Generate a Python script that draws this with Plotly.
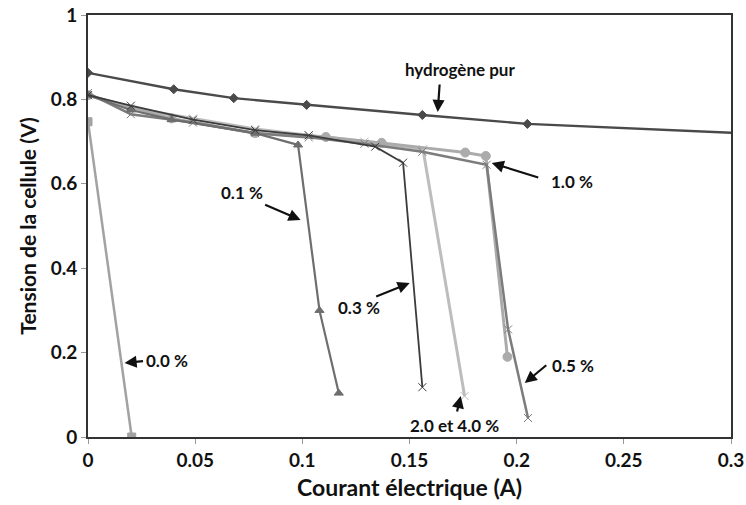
import plotly.graph_objects as go

# Data (A, V)
h2_x = [0, 0.04, 0.068, 0.102, 0.156, 0.205, 0.35]
h2_y = [0.863, 0.824, 0.803, 0.787, 0.763, 0.742, 0.71]

p00_x = [0, 0.0204]
p00_y = [0.747, 0.0]

p01_x = [0, 0.02, 0.039, 0.078, 0.098, 0.108, 0.117]
p01_y = [0.81, 0.775, 0.752, 0.72, 0.692, 0.30, 0.104]

p03_x = [0, 0.02, 0.049, 0.078, 0.103, 0.134, 0.147, 0.156]
p03_y = [0.81, 0.785, 0.752, 0.727, 0.715, 0.688, 0.65, 0.118]

p05_x = [0, 0.02, 0.049, 0.078, 0.103, 0.129, 0.156, 0.186, 0.196, 0.2053]
p05_y = [0.815, 0.765, 0.745, 0.72, 0.71, 0.695, 0.676, 0.645, 0.255, 0.045]

p10_x = [0, 0.039, 0.078, 0.111, 0.137, 0.176, 0.1856, 0.1957]
p10_y = [0.81, 0.755, 0.72, 0.711, 0.697, 0.674, 0.666, 0.19]

p24_x = [0, 0.02, 0.049, 0.078, 0.103, 0.129, 0.1563, 0.1757]
p24_y = [0.81, 0.78, 0.755, 0.73, 0.715, 0.70, 0.682, 0.097]

x_ticks = [0, 0.05, 0.1, 0.15, 0.2, 0.25, 0.3]
x_tick_text = ["0", "0.05", "0.1", "0.15", "0.2", "0.25", "0.3"]
y_ticks = [0, 0.2, 0.4, 0.6, 0.8, 1]
y_tick_text = ["0", "0.2", "0.4", "0.6", "0.8", "1"]

FONT = "Lato"

fig = go.Figure()

def add(x, y, color, symbol, size, width, name):
    fig.add_trace(go.Scatter(
        x=x, y=y, mode="lines+markers", name=name,
        line=dict(color=color, width=width),
        marker=dict(symbol=symbol, size=size, color=color,
                    line=dict(color=color, width=1)),
        cliponaxis=True, showlegend=False))

add(p24_x, p24_y, "#bdbdbd", "x-thin", 8, 3, "2.0 et 4.0 %")
add(p10_x, p10_y, "#ababab", "circle", 9, 3, "1.0 %")
add(p05_x, p05_y, "#7c7c7c", "x-thin", 8, 2.5, "0.5 %")
add(p01_x, p01_y, "#6e6e6e", "triangle-up", 8, 2.2, "0.1 %")
add(p03_x, p03_y, "#3c3c3c", "x-thin", 8, 1.8, "0.3 %")
add(p00_x, p00_y, "#a2a2a2", "square", 8, 2.5, "0.0 %")
add(h2_x, h2_y, "#4a4a4a", "diamond", 7, 2.4, "hydrogène pur")

def px2x(px):
    return (px - 88.5) / 2142.0

def py2y(py):
    return (437.0 - py) / 422.0

labels = [
    ("hydrogène pur", 460, 69, 438, 112, 440, 83),
    ("1.0 %", 572, 181, 492, 163, 540, 178),
    ("0.1 %", 242, 192, 301, 220, 264, 204),
    ("0.3 %", 359, 307, 410, 283, 375, 297),
    ("2.0 et 4.0 %", 455, 425, 461, 396, 457, 413),
    ("0.5 %", 573, 365, 525, 383, 548, 364),
    ("0.0 %", 167, 360, 125, 363, 145, 361),
]
for txt, tx, ty, hx, hy, sx, sy in labels:
    fig.add_annotation(x=px2x(tx), y=py2y(ty), text="<b>" + txt + "</b>",
                       showarrow=False, xref="x", yref="y",
                       font=dict(family=FONT, size=17, color="#111"))
    fig.add_annotation(x=px2x(hx), y=py2y(hy), ax=sx - hx, ay=sy - hy,
                       axref="pixel", ayref="pixel", xref="x", yref="y",
                       text="", showarrow=True, arrowhead=2, arrowsize=1.1,
                       arrowwidth=2.2, arrowcolor="#111")

fig.update_layout(
    width=746, height=505,
    margin=dict(l=88, r=15, t=15, b=68),
    paper_bgcolor="white", plot_bgcolor="white",
    font=dict(family=FONT, color="#111"),
)
fig.update_xaxes(
    range=[0, 0.3], tickvals=x_ticks, ticktext=["<b>" + t + "</b>" for t in x_tick_text],
    tickfont=dict(family=FONT, size=19, color="#111"),
    showgrid=False, zeroline=False, automargin=False,
    showline=True, linecolor="#333", linewidth=2, mirror=True,
    ticks="outside", ticklen=5, tickcolor="#999", tickwidth=1,
    title=dict(text="<b>Courant électrique (A)</b>", font=dict(family=FONT, size=23, color="#111"), standoff=10),
)
fig.update_yaxes(
    range=[0, 1], tickvals=y_ticks, ticktext=["<b>" + t + "</b>" for t in y_tick_text],
    tickfont=dict(family=FONT, size=19, color="#111"),
    showgrid=False, zeroline=False, automargin=False,
    showline=True, linecolor="#333", linewidth=2, mirror=True,
    ticks="outside", ticklen=5, tickcolor="#999", tickwidth=1,
    title=dict(text="<b>Tension de la cellule (V)</b>", font=dict(family=FONT, size=21, color="#111"), standoff=8),
)

fig.write_html("out.html",
               config={"displayModeBar": False, "staticPlot": True},
               post_script="document.body.style.margin='0';document.body.style.overflow='hidden';")
